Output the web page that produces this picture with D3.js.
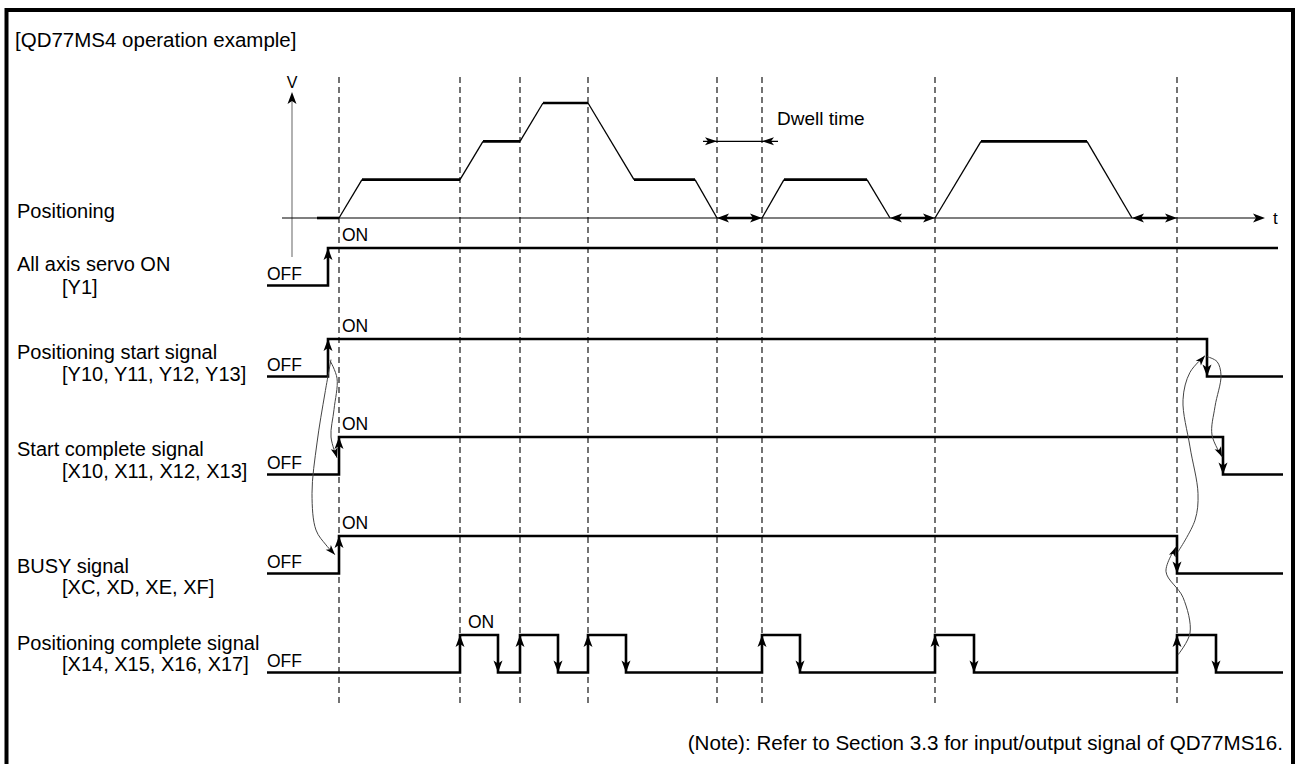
<!DOCTYPE html>
<html><head><meta charset="utf-8">
<script src="https://cdn.jsdelivr.net/npm/d3@7"></script>
<style>
html,body{margin:0;padding:0;background:#fff;}
svg{display:block;}
text{font-family:"Liberation Sans",Arial,sans-serif;fill:#000;}
</style>
</head><body>
<svg id="chart" width="1295" height="764"></svg>
<script>
// ---------------- data ----------------
const titleText = "[QD77MS4 operation example]";
const noteText = "(Note): Refer to Section 3.3 for input/output signal of QD77MS16.";
const speedLabel = "Positioning";
const dwellLabel = "Dwell time";
// time markers (dashed lines), in time units
const timeMarks = [0, 12.1, 18.1, 24.9, 37.8, 42.3, 59.6, 83.8];
// speed profile: time / speed level
const speedT = [-2.2, 0, 2.3, 12.1, 14.4, 18.1, 20.4, 24.9, 29.5, 35.6, 37.8, 42.3, 44.5, 52.8, 55.1, 59.6, 64.2, 74.8, 79.3, 83.8];
const speedV = [0, 0, 1, 1, 2, 2, 3, 3, 1, 1, 0, 0, 1, 1, 0, 0, 2, 2, 0, 0];
// dwell intervals on the time axis
const dwellStart = [37.8, 55.1, 79.3];
const dwellEnd = [42.3, 59.6, 83.8];
// signals
const signalNames = ["All axis servo ON", "Positioning start signal", "Start complete signal", "BUSY signal", "Positioning complete signal"];
const signalCodes = ["[Y1]", "[Y10, Y11, Y12, Y13]", "[X10, X11, X12, X13]", "[XC, XD, XE, XF]", "[X14, X15, X16, X17]"];
const servoEdges = [-1.1];
const startSignalEdges = [-1.1, 86.8];
const startCompleteEdges = [0, 88.4];
const busyEdges = [0, 83.8];
const completeEdges = [12.1, 15.9, 18.1, 21.9, 24.9, 28.7, 42.3, 46.1, 59.6, 63.5, 83.8, 87.7];
const signalEdges = [servoEdges, startSignalEdges, startCompleteEdges, busyEdges, completeEdges];
const signalEnd = [93.9, 94.4, 94.4, 94.4, 94.4];
const onLabelTime = [0.2, 0.2, 0.2, 0.2, 12.8];
// causal curves: [time, row position]
const curveStartToComplete = [[-0.9,1.22],[-0.2,1.40],[-0.5,1.72],[-0.8,2.0],[-0.2,2.21]];
const curveStartToBusy = [[-0.8,1.21],[-1.4,1.55],[-2.2,2.06],[-2.7,2.57],[-2.3,2.94],[-1.3,3.09],[-0.4,3.19]];
const curveCompleteToBusy = [[83.9,4.20],[85.1,3.98],[84.4,3.62],[82.7,3.36],[83.7,3.11]];
const curveBusyToStart = [[83.9,3.16],[85.6,2.84],[85.9,2.57],[85.1,2.10],[84.4,1.62],[85.1,1.34],[86.6,1.17]];
const curveStartToStartComplete = [[86.8,1.18],[87.8,1.23],[88.2,1.37],[87.6,1.69],[87.3,1.98],[88.3,2.20]];
const curves = [curveStartToComplete, curveStartToBusy, curveCompleteToBusy, curveBusyToStart, curveStartToStartComplete];

// ---------------- layout ----------------
const svg = d3.select("#chart");
const x = d3.scaleLinear().domain([-7.2, 94.4]).range([267, 1283]);
const v = d3.scaleLinear().domain([0, 3]).range([218, 103]);
const row = d3.scaleLinear().domain([0, 1, 2, 3, 4]).range([248, 339, 437, 536, 635]);
const swing = 37.5;
const FONT = 20, SMALL = 17.5;

function arrowHead(g, tx, ty, ang, L, W) {
  const dx = Math.cos(ang), dy = Math.sin(ang);
  const bx = tx - L * dx, by = ty - L * dy;
  const nx = tx - L * 0.75 * dx, ny = ty - L * 0.75 * dy;
  g.append("path")
    .attr("d", `M${tx},${ty}L${bx - W * dy},${by + W * dx}L${nx},${ny}L${bx + W * dy},${by - W * dx}Z`)
    .attr("fill", "#000");
}

// frame
svg.append("path").attr("d", "M6.5,770V10H1293V770")
  .attr("fill", "none").attr("stroke", "#000").attr("stroke-width", 4);

svg.append("text").attr("x", 15).attr("y", 47).attr("font-size", 20.5).text(titleText);

// dashed time markers
svg.append("g").selectAll("line").data(timeMarks).join("line")
  .attr("x1", d => x(d)).attr("x2", d => x(d))
  .attr("y1", 77).attr("y2", 707)
  .attr("stroke", "#000").attr("stroke-width", 1.1).attr("stroke-dasharray", "6,4");

// ---- speed chart ----
const sp = svg.append("g");
// V axis
sp.append("line").attr("x1", x(-4.7)).attr("x2", x(-4.7)).attr("y1", 257).attr("y2", 100)
  .attr("stroke", "#888").attr("stroke-width", 1.3);
arrowHead(sp, x(-4.7), 92, -Math.PI / 2, 12, 4.5);
sp.append("text").attr("x", x(-4.7)).attr("y", 88).attr("font-size", 16).attr("text-anchor", "middle").text("V");
// t axis
sp.append("line").attr("x1", x(-5.7)).attr("x2", x(92.0)).attr("y1", v(0)).attr("y2", v(0))
  .attr("stroke", "#000").attr("stroke-width", 1.1);
arrowHead(sp, x(92.6), v(0), 0, 12, 4.5);
sp.append("text").attr("x", 1273).attr("y", v(0) + 6).attr("font-size", 17).text("t");
sp.append("text").attr("x", 17).attr("y", 218).attr("font-size", FONT).text(speedLabel);

// profile segments
const segs = d3.range(speedT.length - 1).map(i => ({
  x1: speedT[i], x2: speedT[i + 1], y1: speedV[i], y2: speedV[i + 1]
})).filter(s => !(s.y1 === 0 && s.y2 === 0 && s.x1 > -1));
sp.selectAll("line.seg").data(segs).join("line").attr("class", "seg")
  .attr("x1", d => x(d.x1)).attr("x2", d => x(d.x2))
  .attr("y1", d => v(d.y1)).attr("y2", d => v(d.y2))
  .attr("stroke", "#000")
  .attr("stroke-width", d => d.y1 === d.y2 ? 2.6 : 1.3);

// dwell double arrows on axis
dwellStart.forEach((s, i) => {
  const e = dwellEnd[i];
  sp.append("line").attr("x1", x(s) + 6).attr("x2", x(e) - 6).attr("y1", v(0)).attr("y2", v(0))
    .attr("stroke", "#000").attr("stroke-width", 2.6);
  arrowHead(sp, x(s), v(0), Math.PI, 12, 4.5);
  arrowHead(sp, x(e), v(0), 0, 12, 4.5);
});
// dwell-time dimension arrow
const dy = v(2);
sp.append("line").attr("x1", x(36.4)).attr("x2", x(43.9)).attr("y1", dy).attr("y2", dy)
  .attr("stroke", "#000").attr("stroke-width", 1.1);
arrowHead(sp, x(dwellStart[0]), dy, 0, 12, 4);
arrowHead(sp, x(dwellEnd[0]), dy, Math.PI, 12, 4);
sp.append("text").attr("x", x(43.8)).attr("y", dy - 16).attr("font-size", 19).text(dwellLabel);

// ---- signals ----
const labelY1 = [271, 359, 456, 573, 650];
const labelY2 = [294, 381, 478, 594, 671];
signalNames.forEach((name, i) => {
  const g = svg.append("g");
  const yOn = row(i), yOff = row(i) + swing;
  const edges = signalEdges[i];
  let pts = [[x(-7.2), yOff]];
  let state = 0;
  edges.forEach(t => {
    const yc = state ? yOn : yOff;
    state = 1 - state;
    const yn = state ? yOn : yOff;
    pts.push([x(t), yc], [x(t), yn]);
  });
  pts.push([x(signalEnd[i]), state ? yOn : yOff]);
  g.append("path").attr("d", d3.line()(pts)).attr("fill", "none")
    .attr("stroke", "#000").attr("stroke-width", 2.6).attr("stroke-linejoin", "miter");
  state = 0;
  edges.forEach(t => {
    state = 1 - state;
    if (state) arrowHead(g, x(t), yOn, -Math.PI / 2, 12, 4.5);
    else arrowHead(g, x(t), yOff, Math.PI / 2, 12, 4.5);
  });
  g.append("text").attr("x", 267).attr("y", yOff - 6).attr("font-size", SMALL).text("OFF");
  g.append("text").attr("x", x(onLabelTime[i]) + 1).attr("y", yOn - 7).attr("font-size", SMALL).text("ON");
  g.append("text").attr("x", 17).attr("y", labelY1[i]).attr("font-size", FONT).text(name);
  g.append("text").attr("x", 62).attr("y", labelY2[i]).attr("font-size", FONT).text(signalCodes[i]);
});

// causal curves
const cl = d3.line().x(d => x(d[0])).y(d => row(d[1])).curve(d3.curveCatmullRom.alpha(0.5));
curves.forEach(c => {
  svg.append("path").attr("d", cl(c)).attr("fill", "none").attr("stroke", "#444").attr("stroke-width", 1);
  const a = c[c.length - 2], b = c[c.length - 1];
  const ang = Math.atan2(row(b[1]) - row(a[1]), x(b[0]) - x(a[0]));
  arrowHead(svg, x(b[0]), row(b[1]), ang, 10, 3.5);
});

svg.append("text").attr("x", 1283).attr("y", 750).attr("font-size", 20.6)
  .attr("text-anchor", "end").text(noteText);
</script>
</body></html>
